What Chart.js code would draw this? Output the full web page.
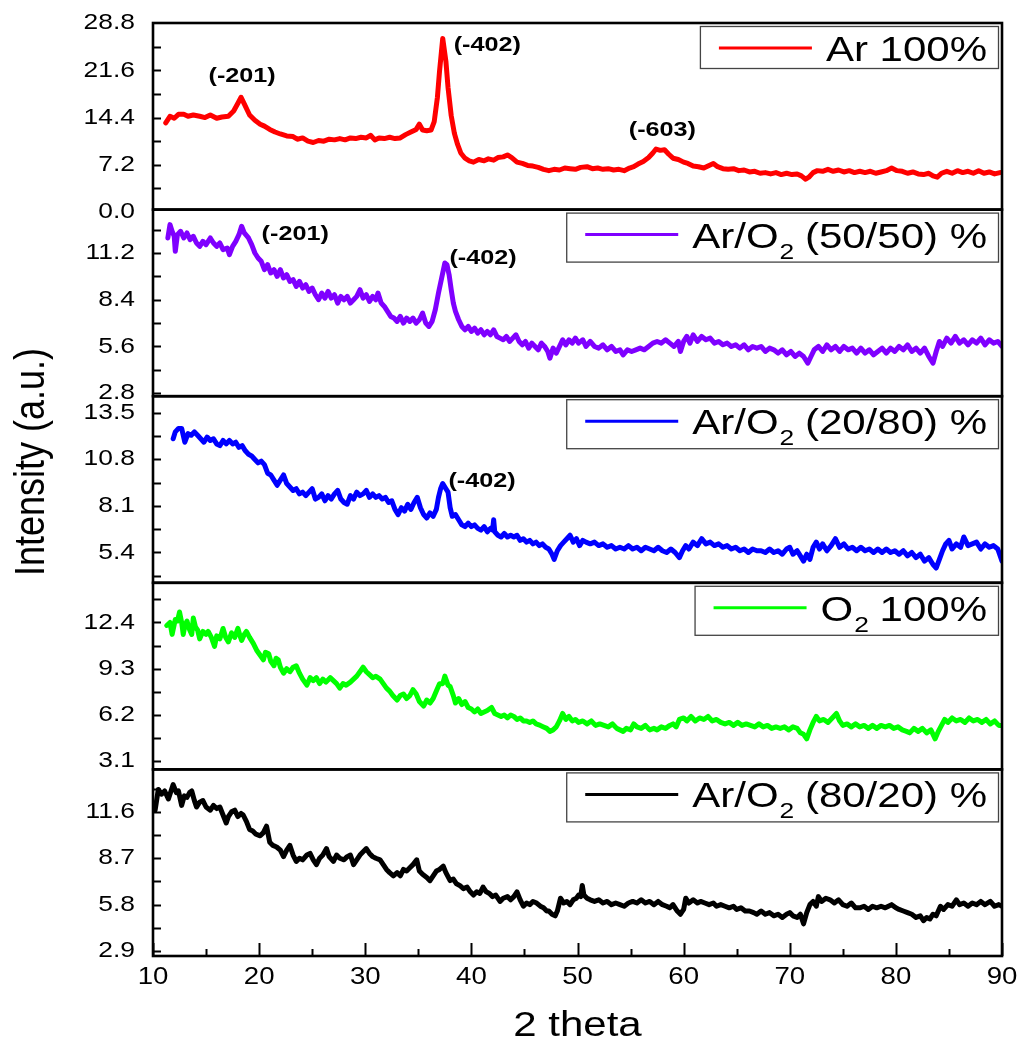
<!DOCTYPE html>
<html>
<head>
<meta charset="utf-8">
<script src="https://cdn.jsdelivr.net/npm/chart.js@4.4.0/dist/chart.umd.min.js"></script>
<style>
html,body{margin:0;padding:0;background:#ffffff;}
#wrap{width:1024px;height:1048px;position:relative;}
</style>
</head>
<body>
<div id="wrap"><canvas id="c" width="1024" height="1048"></canvas></div>
<script>
// ---------- DATA (2 theta, intensity) ----------
const seriesLabels = ['Ar 100%', 'Ar/O₂ (50/50) %', 'Ar/O₂ (20/80) %', 'O₂ 100%', 'Ar/O₂ (80/20) %'];

const ar100 = [[11.2,13.6],[11.6,14.6],[12.0,14.3],[12.4,14.9],[12.9,14.9],[13.3,14.6],[13.8,14.8],[14.4,14.6],[14.9,14.4],[15.4,14.8],[16.0,14.3],[16.5,14.5],[17.1,14.6],[17.6,15.4],[18.0,16.6],[18.3,17.5],[18.6,16.5],[19.1,14.8],[19.6,14.0],[20.1,13.4],[20.5,13.1],[21.0,12.6],[21.5,12.2],[22.0,11.9],[22.6,11.6],[23.2,11.5],[23.6,11.1],[24.1,11.3],[24.6,10.8],[25.1,10.6],[25.6,10.9],[26.1,10.8],[26.6,11.1],[27.1,11.0],[27.6,11.2],[28.1,11.0],[28.6,11.3],[29.1,11.2],[29.6,11.4],[30.1,11.3],[30.5,11.7],[30.9,11.0],[31.3,11.3],[31.8,11.2],[32.3,11.4],[32.8,11.2],[33.3,11.3],[33.8,11.8],[34.3,12.2],[34.8,12.6],[35.1,13.4],[35.4,12.5],[35.8,12.4],[36.2,12.5],[36.5,13.8],[36.8,17.5],[37.0,21.5],[37.3,26.5],[37.6,23.0],[37.8,19.0],[38.1,14.7],[38.4,12.0],[38.7,10.3],[39.0,9.0],[39.4,8.2],[39.8,7.8],[40.2,7.6],[40.7,8.0],[41.2,7.8],[41.6,8.1],[42.1,7.9],[42.5,8.3],[43.0,8.4],[43.4,8.7],[43.8,8.3],[44.3,7.6],[44.8,7.4],[45.3,7.1],[45.8,7.0],[46.3,6.8],[46.8,6.5],[47.3,6.3],[47.8,6.5],[48.3,6.4],[48.8,6.7],[49.3,6.6],[49.8,6.5],[50.3,6.8],[50.9,6.9],[51.4,6.6],[51.9,6.7],[52.4,6.5],[52.9,6.6],[53.4,6.4],[53.9,6.5],[54.4,6.3],[54.9,6.7],[55.3,6.9],[55.7,7.3],[56.2,7.7],[56.7,8.3],[57.1,9.0],[57.4,9.6],[57.8,9.4],[58.2,9.5],[58.6,8.8],[59.0,8.2],[59.5,8.0],[60.0,7.6],[60.4,7.4],[60.9,7.0],[61.4,6.9],[61.9,6.7],[62.4,7.1],[62.8,7.4],[63.2,6.9],[63.7,6.6],[64.2,6.5],[64.7,6.6],[65.2,6.3],[65.7,6.4],[66.2,6.1],[66.7,6.2],[67.2,5.9],[67.7,6.0],[68.2,5.8],[68.7,6.0],[69.2,5.7],[69.7,5.9],[70.2,5.7],[70.7,5.8],[71.1,5.5],[71.5,5.0],[71.8,5.3],[72.2,6.0],[72.6,6.3],[73.1,6.2],[73.6,6.5],[74.1,6.2],[74.6,6.4],[75.1,6.1],[75.6,6.3],[76.1,6.0],[76.6,6.2],[77.1,6.0],[77.6,6.2],[78.1,5.9],[78.6,6.1],[79.1,6.3],[79.6,6.7],[80.1,6.3],[80.6,6.2],[81.1,5.9],[81.6,6.1],[82.1,5.8],[82.6,5.7],[83.1,5.9],[83.5,5.5],[83.9,5.3],[84.3,5.9],[84.8,6.2],[85.3,5.9],[85.8,6.3],[86.3,6.0],[86.8,6.2],[87.3,5.9],[87.8,6.3],[88.3,5.9],[88.8,6.1],[89.3,5.8],[89.8,6.0]];

const ar5050 = [[11.4,12.1],[11.6,12.9],[11.8,12.5],[12.0,12.2],[12.1,11.3],[12.3,12.3],[12.6,12.5],[12.9,12.1],[13.2,12.4],[13.5,12.0],[13.8,12.2],[14.1,11.8],[14.4,11.6],[14.7,11.9],[15.0,11.7],[15.4,12.1],[15.7,11.8],[16.0,11.6],[16.3,11.8],[16.6,11.4],[17.0,11.5],[17.2,11.1],[17.5,11.6],[17.8,11.9],[18.1,12.3],[18.35,12.8],[18.6,12.4],[19.0,12.1],[19.3,11.7],[19.6,11.2],[19.9,10.9],[20.2,10.7],[20.5,10.2],[20.8,10.5],[21.1,10.0],[21.4,10.2],[21.7,9.8],[22.0,10.2],[22.3,9.7],[22.6,9.9],[22.9,9.5],[23.2,9.6],[23.5,9.2],[23.8,9.5],[24.1,9.1],[24.4,9.3],[24.7,8.9],[25.0,9.1],[25.3,8.7],[25.6,8.4],[25.9,8.8],[26.2,8.5],[26.5,8.9],[26.8,8.5],[27.1,8.7],[27.4,8.2],[27.7,8.6],[28.0,8.4],[28.3,8.6],[28.6,8.2],[28.9,8.4],[29.2,8.6],[29.5,9.0],[29.8,8.5],[30.1,8.7],[30.4,8.3],[30.7,8.6],[31.0,8.4],[31.2,8.8],[31.5,8.2],[31.8,8.0],[32.1,7.7],[32.4,7.4],[32.7,7.3],[33.0,7.1],[33.3,7.4],[33.6,7.0],[33.9,7.3],[34.2,7.1],[34.5,7.3],[34.8,7.0],[35.1,7.2],[35.4,7.6],[35.7,7.0],[36.0,6.8],[36.3,7.1],[36.6,7.8],[36.9,8.8],[37.2,9.7],[37.5,10.6],[37.7,10.5],[37.9,9.9],[38.1,9.0],[38.3,8.2],[38.5,7.7],[38.8,7.2],[39.1,6.8],[39.4,6.6],[39.7,6.8],[40.0,6.5],[40.3,6.7],[40.6,6.4],[40.9,6.6],[41.2,6.3],[41.5,6.5],[41.8,6.3],[42.1,6.6],[42.4,6.2],[42.7,6.1],[43.0,6.0],[43.3,6.2],[43.6,5.9],[43.9,6.1],[44.2,6.3],[44.5,5.9],[44.8,5.7],[45.1,5.9],[45.4,5.5],[45.7,5.8],[46.0,5.6],[46.3,5.4],[46.6,5.8],[46.9,5.6],[47.2,5.3],[47.4,4.9],[47.7,5.5],[48.0,5.2],[48.3,5.6],[48.6,6.0],[48.9,5.7],[49.2,6.0],[49.5,5.8],[49.8,6.1],[50.1,5.8],[50.5,6.0],[50.8,5.6],[51.2,5.9],[51.6,5.6],[52.0,5.5],[52.4,5.7],[52.8,5.4],[53.2,5.6],[53.6,5.3],[54.0,5.4],[54.3,5.1],[54.7,5.4],[55.1,5.3],[55.5,5.4],[55.9,5.5],[56.3,5.4],[56.7,5.6],[57.1,5.8],[57.5,5.9],[57.9,5.8],[58.3,6.0],[58.7,5.8],[59.1,5.6],[59.5,5.9],[59.7,5.3],[60.0,5.9],[60.3,6.2],[60.6,5.8],[60.9,6.3],[61.3,5.9],[61.7,6.2],[62.1,6.0],[62.5,6.1],[62.9,5.8],[63.3,5.9],[63.7,5.7],[64.1,5.8],[64.5,5.6],[64.9,5.7],[65.3,5.5],[65.7,5.7],[66.1,5.4],[66.5,5.6],[66.9,5.5],[67.3,5.6],[67.7,5.3],[68.1,5.5],[68.5,5.4],[68.9,5.2],[69.3,5.4],[69.7,5.1],[70.1,5.3],[70.5,5.0],[70.9,5.2],[71.3,5.0],[71.7,4.6],[72.0,5.0],[72.3,5.4],[72.7,5.6],[73.1,5.3],[73.5,5.7],[73.9,5.4],[74.3,5.6],[74.7,5.3],[75.1,5.6],[75.5,5.4],[75.9,5.5],[76.3,5.2],[76.7,5.5],[77.1,5.2],[77.5,5.4],[77.9,5.1],[78.3,5.3],[78.7,5.5],[79.1,5.2],[79.5,5.5],[79.9,5.3],[80.3,5.6],[80.7,5.4],[81.1,5.7],[81.5,5.3],[81.9,5.5],[82.3,5.2],[82.7,5.5],[83.1,5.0],[83.5,4.6],[83.8,5.3],[84.1,5.9],[84.4,5.6],[84.8,6.1],[85.2,5.8],[85.6,6.2],[86.0,5.8],[86.4,6.0],[86.8,5.7],[87.2,6.0],[87.6,5.8],[88.0,6.1],[88.4,5.7],[88.8,6.0],[89.2,5.8],[89.6,5.9],[90.0,5.6]];

const ar2080 = [[11.9,12.0],[12.1,12.4],[12.4,12.6],[12.7,12.6],[13.0,11.8],[13.3,12.3],[13.6,12.2],[13.9,12.4],[14.2,12.2],[14.5,12.0],[14.8,11.8],[15.1,12.1],[15.4,11.9],[15.7,12.0],[16.0,11.7],[16.3,11.6],[16.6,11.9],[16.9,11.7],[17.2,11.9],[17.5,11.7],[17.8,11.8],[18.1,11.5],[18.4,11.6],[18.7,11.3],[19.0,11.1],[19.3,11.0],[19.6,10.8],[19.9,10.6],[20.2,10.7],[20.5,10.5],[20.8,10.0],[21.1,9.9],[21.4,9.6],[21.7,9.3],[22.0,9.6],[22.3,9.9],[22.6,9.4],[22.9,9.2],[23.2,9.0],[23.5,9.1],[23.8,8.8],[24.1,8.9],[24.4,8.7],[24.7,8.9],[25.0,9.1],[25.3,8.5],[25.6,8.6],[25.9,8.8],[26.2,8.4],[26.5,8.7],[26.8,8.5],[27.1,8.8],[27.4,9.0],[27.7,8.5],[28.0,8.3],[28.3,8.2],[28.6,8.7],[28.9,8.5],[29.2,8.9],[29.5,8.7],[29.8,8.8],[30.1,9.0],[30.4,8.6],[30.7,8.8],[31.0,8.6],[31.3,8.7],[31.6,8.5],[31.9,8.6],[32.2,8.3],[32.5,8.4],[32.8,7.9],[33.1,7.6],[33.4,8.0],[33.7,7.8],[34.0,8.2],[34.3,7.9],[34.6,8.3],[34.9,8.6],[35.2,8.0],[35.5,7.6],[35.8,7.4],[36.1,7.7],[36.4,7.5],[36.7,7.9],[36.9,8.6],[37.1,9.1],[37.3,9.4],[37.6,9.1],[37.8,8.9],[38.0,8.0],[38.2,7.5],[38.5,7.6],[38.8,7.3],[39.1,7.0],[39.4,6.9],[39.7,7.1],[40.0,6.9],[40.3,7.0],[40.6,6.8],[40.9,6.7],[41.2,6.9],[41.5,6.6],[41.8,6.8],[42.0,6.7],[42.1,7.3],[42.2,6.6],[42.5,6.4],[42.8,6.3],[43.1,6.5],[43.4,6.3],[43.7,6.4],[44.0,6.3],[44.3,6.4],[44.6,6.1],[44.9,6.2],[45.2,6.0],[45.5,6.1],[45.8,5.9],[46.1,6.0],[46.4,5.8],[46.7,5.9],[47.0,5.7],[47.3,5.6],[47.6,5.3],[47.8,5.0],[48.1,5.5],[48.4,5.8],[48.7,6.0],[49.0,6.2],[49.3,6.4],[49.6,6.0],[49.9,6.2],[50.2,5.8],[50.5,6.1],[50.8,6.0],[51.2,5.9],[51.6,6.0],[52.0,5.8],[52.4,5.9],[52.8,5.7],[53.2,5.8],[53.6,5.6],[54.0,5.7],[54.4,5.6],[54.8,5.8],[55.2,5.6],[55.6,5.7],[56.0,5.5],[56.4,5.7],[56.8,5.6],[57.2,5.5],[57.6,5.7],[58.0,5.5],[58.4,5.4],[58.8,5.6],[59.2,5.4],[59.6,5.1],[59.9,5.5],[60.2,5.8],[60.5,5.6],[60.9,6.0],[61.3,5.8],[61.7,6.2],[62.1,5.9],[62.5,6.0],[62.9,5.8],[63.3,5.9],[63.7,5.7],[64.1,5.8],[64.5,5.6],[64.9,5.7],[65.3,5.5],[65.7,5.6],[66.1,5.4],[66.5,5.6],[66.9,5.5],[67.3,5.5],[67.7,5.4],[68.1,5.6],[68.5,5.4],[68.9,5.5],[69.3,5.3],[69.7,5.6],[70.0,5.7],[70.3,5.3],[70.7,5.5],[71.0,5.2],[71.3,4.9],[71.6,5.3],[71.9,5.0],[72.2,5.7],[72.5,6.0],[72.8,5.6],[73.1,5.9],[73.5,5.5],[73.9,5.8],[74.3,6.2],[74.7,5.7],[75.1,5.9],[75.5,5.6],[75.9,5.7],[76.3,5.5],[76.7,5.7],[77.1,5.5],[77.5,5.6],[77.9,5.4],[78.3,5.6],[78.7,5.4],[79.1,5.6],[79.5,5.4],[79.9,5.5],[80.3,5.3],[80.7,5.5],[81.1,5.2],[81.5,5.4],[81.9,5.1],[82.3,5.3],[82.7,4.9],[83.1,5.1],[83.5,4.7],[83.8,4.5],[84.1,5.0],[84.4,5.5],[84.7,5.9],[85.0,6.1],[85.3,5.6],[85.7,5.9],[86.1,5.7],[86.4,6.3],[86.8,5.8],[87.2,5.9],[87.6,6.0],[88.0,5.6],[88.4,5.9],[88.8,5.7],[89.2,5.8],[89.6,5.6],[90.0,4.9]];

const o2100 = [[11.3,12.2],[11.6,12.4],[11.8,11.6],[12.1,12.6],[12.3,12.5],[12.5,13.1],[12.7,12.4],[12.85,11.6],[13.0,12.2],[13.2,12.5],[13.4,12.0],[13.65,11.6],[13.8,12.7],[14.0,12.1],[14.2,11.9],[14.4,11.3],[14.7,11.8],[15.0,11.6],[15.2,11.8],[15.5,11.4],[15.8,10.8],[16.0,11.5],[16.3,11.3],[16.6,12.0],[16.85,11.4],[17.1,11.1],[17.4,11.7],[17.7,11.4],[18.0,12.0],[18.2,11.5],[18.35,11.2],[18.6,11.6],[18.8,11.8],[19.1,11.4],[19.45,11.0],[19.8,10.5],[20.1,10.2],[20.4,9.9],[20.6,10.4],[20.9,10.3],[21.1,9.8],[21.4,9.5],[21.6,10.0],[21.8,9.9],[22.0,9.4],[22.3,9.0],[22.6,9.3],[22.9,9.1],[23.2,9.4],[23.5,9.5],[23.8,9.0],[24.1,8.6],[24.5,8.2],[24.8,8.7],[25.1,8.5],[25.4,8.7],[25.7,8.3],[26.0,8.6],[26.3,8.4],[26.7,8.7],[27.0,8.5],[27.3,8.3],[27.6,8.0],[27.9,8.3],[28.2,8.2],[28.6,8.4],[28.9,8.6],[29.2,8.8],[29.5,9.1],[29.8,9.4],[30.1,9.1],[30.4,8.9],[30.7,8.7],[31.0,8.8],[31.4,8.6],[31.7,8.3],[32.0,8.0],[32.3,7.8],[32.6,7.5],[33.0,7.2],[33.3,7.5],[33.6,7.6],[33.9,7.3],[34.2,7.5],[34.5,7.9],[34.8,7.6],[35.1,7.1],[35.5,6.8],[35.8,7.2],[36.1,7.0],[36.4,7.3],[36.7,7.8],[37.0,8.3],[37.3,8.3],[37.5,8.8],[37.8,8.2],[38.0,8.1],[38.3,7.5],[38.5,7.0],[38.8,7.3],[39.1,6.9],[39.4,7.1],[39.7,6.7],[40.0,6.6],[40.3,6.4],[40.6,6.6],[40.9,6.3],[41.2,6.4],[41.5,6.5],[41.9,6.7],[42.2,6.3],[42.5,6.2],[42.8,6.1],[43.1,6.2],[43.4,6.0],[43.7,6.2],[44.0,6.1],[44.3,5.9],[44.6,6.0],[44.9,5.8],[45.2,5.8],[45.5,5.7],[45.8,5.8],[46.1,5.6],[46.5,5.5],[46.8,5.4],[47.1,5.3],[47.4,5.1],[47.7,5.2],[48.0,5.4],[48.3,5.8],[48.6,6.3],[48.9,5.9],[49.2,6.1],[49.5,5.8],[49.8,5.9],[50.1,5.7],[50.5,5.8],[50.9,5.6],[51.3,5.8],[51.7,5.5],[52.1,5.6],[52.5,5.5],[52.9,5.4],[53.3,5.6],[53.7,5.3],[54.0,5.2],[54.3,5.1],[54.6,5.3],[55.0,5.2],[55.3,5.6],[55.6,5.4],[56.0,5.3],[56.4,5.5],[56.8,5.2],[57.2,5.3],[57.5,5.2],[57.9,5.4],[58.3,5.3],[58.7,5.5],[59.0,5.6],[59.3,5.4],[59.6,5.9],[60.0,6.0],[60.3,5.8],[60.7,6.1],[61.1,5.8],[61.5,6.0],[61.9,5.9],[62.3,6.1],[62.7,5.8],[63.1,5.9],[63.5,5.7],[63.9,5.6],[64.3,5.7],[64.7,5.5],[65.1,5.7],[65.5,5.5],[65.9,5.6],[66.3,5.5],[66.7,5.4],[67.1,5.6],[67.5,5.4],[67.9,5.5],[68.3,5.3],[68.7,5.4],[69.1,5.3],[69.5,5.4],[69.9,5.2],[70.3,5.4],[70.7,5.3],[71.0,5.0],[71.3,4.9],[71.6,4.6],[71.9,5.2],[72.2,5.7],[72.5,6.1],[72.8,5.8],[73.2,5.9],[73.6,5.7],[74.0,6.0],[74.4,6.3],[74.7,5.8],[75.0,5.5],[75.4,5.6],[75.8,5.4],[76.2,5.6],[76.6,5.4],[77.0,5.5],[77.4,5.3],[77.8,5.5],[78.2,5.3],[78.6,5.5],[79.0,5.4],[79.4,5.5],[79.8,5.3],[80.2,5.4],[80.6,5.2],[81.0,5.1],[81.3,5.0],[81.7,5.3],[82.1,5.1],[82.5,5.3],[82.9,5.0],[83.3,5.2],[83.7,4.6],[84.0,5.1],[84.3,5.5],[84.6,5.9],[84.9,5.7],[85.3,6.0],[85.7,5.8],[86.1,5.9],[86.5,5.7],[86.9,6.0],[87.3,5.8],[87.7,5.9],[88.1,5.7],[88.5,5.9],[88.9,5.6],[89.3,5.8],[89.7,5.5],[90.0,5.5]];

const ar8020 = [[10.2,11.7],[10.5,13.0],[10.8,12.7],[11.1,12.9],[11.45,12.4],[11.7,12.9],[11.9,13.3],[12.2,12.8],[12.4,12.9],[12.7,12.0],[12.95,12.6],[13.2,12.5],[13.45,12.8],[13.65,12.9],[13.9,12.3],[14.1,11.9],[14.4,12.2],[14.7,12.3],[15.0,11.9],[15.4,11.7],[15.7,12.0],[16.0,11.8],[16.3,11.9],[16.6,11.4],[16.9,10.9],[17.1,11.3],[17.4,11.6],[17.7,11.7],[18.0,11.3],[18.3,11.5],[18.5,11.4],[18.8,11.0],[19.1,10.5],[19.4,10.4],[19.7,10.2],[20.1,10.1],[20.4,10.3],[20.7,10.7],[21.0,9.7],[21.3,9.5],[21.65,9.4],[22.0,9.2],[22.3,8.8],[22.6,9.2],[22.9,9.5],[23.2,8.9],[23.5,8.5],[23.8,8.7],[24.1,8.6],[24.5,8.9],[24.8,9.0],[25.1,8.6],[25.4,8.3],[25.7,8.7],[26.0,8.9],[26.35,9.3],[26.6,8.8],[27.0,8.5],[27.3,8.9],[27.6,8.7],[28.0,8.6],[28.3,8.8],[28.6,8.9],[28.9,8.3],[29.2,8.6],[29.5,8.9],[29.8,9.1],[30.1,9.3],[30.4,9.0],[30.7,8.8],[31.0,8.7],[31.4,8.6],[31.7,8.3],[32.0,8.0],[32.3,7.8],[32.65,7.6],[33.0,7.8],[33.3,7.6],[33.6,8.0],[33.9,7.9],[34.2,8.1],[34.5,8.3],[34.85,8.6],[35.1,7.9],[35.4,7.7],[35.8,7.5],[36.1,7.3],[36.4,7.6],[36.7,7.9],[37.0,8.0],[37.35,8.2],[37.6,7.8],[38.0,7.3],[38.3,7.4],[38.6,7.1],[38.9,7.0],[39.25,6.8],[39.6,6.9],[39.9,6.6],[40.2,6.4],[40.5,6.6],[40.8,6.5],[41.1,6.9],[41.4,6.6],[41.7,6.5],[42.0,6.3],[42.3,6.4],[42.7,6.0],[43.0,6.2],[43.4,6.3],[43.7,6.1],[44.0,6.3],[44.3,6.6],[44.6,6.1],[44.9,5.7],[45.2,5.9],[45.5,5.8],[45.8,6.0],[46.15,5.9],[46.5,5.7],[46.8,5.6],[47.1,5.4],[47.3,5.4],[47.6,5.2],[47.9,5.1],[48.1,5.4],[48.4,6.2],[48.7,5.9],[49.0,6.0],[49.3,5.8],[49.6,6.1],[49.9,6.2],[50.1,6.4],[50.3,6.3],[50.45,7.0],[50.6,6.4],[50.9,6.2],[51.2,6.1],[51.6,6.0],[52.0,6.1],[52.4,5.9],[52.8,6.0],[53.2,5.8],[53.6,5.9],[54.0,5.8],[54.4,5.7],[54.8,5.9],[55.2,6.0],[55.6,5.9],[56.0,6.1],[56.4,5.9],[56.8,6.0],[57.2,5.8],[57.6,6.0],[58.0,5.8],[58.4,5.7],[58.7,5.6],[59.0,5.8],[59.4,5.4],[59.7,5.2],[60.0,5.5],[60.2,6.2],[60.5,5.9],[60.9,6.1],[61.3,5.9],[61.6,6.0],[62.0,5.9],[62.4,5.8],[62.8,5.9],[63.1,5.7],[63.5,5.8],[63.9,5.7],[64.3,5.6],[64.7,5.7],[65.0,5.5],[65.4,5.6],[65.8,5.4],[66.2,5.4],[66.6,5.3],[66.9,5.2],[67.3,5.4],[67.7,5.2],[68.1,5.3],[68.5,5.1],[68.9,5.2],[69.3,5.0],[69.7,5.2],[70.0,5.3],[70.3,5.1],[70.7,5.0],[71.0,5.2],[71.3,4.6],[71.6,5.3],[71.9,5.8],[72.2,6.0],[72.5,5.7],[72.7,6.3],[73.0,6.0],[73.4,6.2],[73.8,6.1],[74.2,5.9],[74.6,6.1],[75.0,5.8],[75.4,5.7],[75.8,5.9],[76.2,5.6],[76.6,5.6],[77.0,5.7],[77.4,5.5],[77.8,5.7],[78.2,5.6],[78.6,5.7],[79.0,5.6],[79.3,5.7],[79.6,5.8],[80.0,5.6],[80.3,5.5],[80.7,5.4],[81.1,5.3],[81.5,5.2],[81.9,5.0],[82.3,5.1],[82.6,4.8],[82.9,5.0],[83.2,4.9],[83.5,5.2],[83.8,5.1],[84.2,5.7],[84.5,5.5],[84.9,5.8],[85.3,5.7],[85.7,6.1],[86.0,5.8],[86.4,5.9],[86.8,5.7],[87.2,5.9],[87.6,5.8],[88.0,6.0],[88.4,5.8],[88.9,6.0],[89.3,5.7],[89.7,5.8],[90.0,5.7]];

// tick labels
const xTickValues = [10, 20, 30, 40, 50, 60, 70, 80, 90];
const yTicksAr100 = [0.0, 7.2, 14.4, 21.6, 28.8];
const yTicks5050 = [2.8, 5.6, 8.4, 11.2];
const yTicks2080 = [5.4, 8.1, 10.8, 13.5];
const yTicksO2 = [3.1, 6.2, 9.3, 12.4];
const yTicks8020 = [2.9, 5.8, 8.7, 11.6];

// axis ranges per panel
const yMin = [0.35, 2.62, 3.64, 2.55, 2.59];
const yMax = [28.85, 13.8, 14.47, 15.06, 14.25];

// peak annotations (panel index, 2theta, intensity, text)
const peakPanel = [0, 0, 0, 1, 1, 2];
const peakX = [18.4, 41.5, 58.0, 23.4, 41.1, 41.0];
const peakY = [20.7, 25.5, 12.5, 12.3, 10.9, 9.55];
const peakText = ['(-201)', '(-402)', '(-603)', '(-201)', '(-402)', '(-402)'];

const colors = ['#ff0000', '#7f00ff', '#0000ff', '#00ff00', '#000000'];
const allSeries = [ar100, ar5050, ar2080, o2100, ar8020];
const allYTicks = [yTicksAr100, yTicks5050, yTicks2080, yTicksO2, yTicks8020];
const axisIds = ['y1', 'y2', 'y3', 'y4', 'y5'];

// ---------- rendering ----------
const FONT = '"Liberation Sans", Arial, Helvetica, sans-serif';
const SX = 1.2; // horizontal text stretch of the original figure

function sText(ctx, text, x, y, font, align, baseline) {
  ctx.save();
  ctx.font = font;
  ctx.textAlign = align || 'left';
  ctx.textBaseline = baseline || 'alphabetic';
  ctx.translate(x, y);
  ctx.scale(SX, 1);
  ctx.fillText(text, 0, 0);
  ctx.restore();
}
function sWidth(ctx, text, font) {
  ctx.save(); ctx.font = font; const w = ctx.measureText(text).width * SX; ctx.restore(); return w;
}

const decor = {
  id: 'decor',
  afterDatasetsDraw(chart) {
    const ctx = chart.ctx, ca = chart.chartArea, xs = chart.scales.x;
    ctx.save();
    ctx.fillStyle = '#000'; ctx.strokeStyle = '#000';
    axisIds.forEach((id, i) => {
      const sc = chart.scales[id];
      const top = sc.top, bottom = sc.bottom;
      // frame
      ctx.lineWidth = 2.6;
      ctx.strokeRect(ca.left, top, ca.right - ca.left, bottom - top);
      // y ticks: majors + half-step minors, drawn inward
      const majors = allYTicks[i];
      const half = (majors[1] - majors[0]) / 2;
      let v = majors[0];
      while (v - half >= sc.min) v -= half;
      ctx.lineWidth = 2;
      for (; v <= sc.max + 1e-9; v += half) {
        const py = Math.round(sc.getPixelForValue(v)) + 0.5;
        if (py < top + 2 || py > bottom - 2) continue;
        ctx.beginPath(); ctx.moveTo(ca.left, py); ctx.lineTo(ca.left + 8, py); ctx.stroke();
      }
      // y labels
      majors.forEach(m => {
        const py = sc.getPixelForValue(m);
        sText(ctx, m.toFixed(1), ca.left - 18, py, '22px ' + FONT, 'right', 'middle');
      });
      // legend box
      const label = seriesLabels[i];
      const parts = label.split('₂');
      const mainFont = '35px ' + FONT, subFont = '22px ' + FONT;
      let tw = 0;
      parts.forEach((p, k) => { tw += sWidth(ctx, p, mainFont); if (k < parts.length - 1) tw += sWidth(ctx, '2', subFont); });
      const hasSub = parts.length > 1;
      const bTop = top + 3, bH = hasSub ? 49 : 42, bRight = ca.right - 4;
      const textRight = bRight - 11, textLeft = textRight - tw;
      const lineR = textLeft - 14, lineL = lineR - 93;
      const bLeft = lineL - 19;
      ctx.fillStyle = '#fff';
      ctx.fillRect(bLeft, bTop, bRight - bLeft, bH);
      ctx.lineWidth = 1.3; ctx.strokeStyle = '#444';
      ctx.strokeRect(bLeft + 0.5, bTop + 0.5, bRight - bLeft, bH);
      ctx.strokeStyle = colors[i]; ctx.lineWidth = 3;
      ctx.beginPath(); ctx.moveTo(lineL, bTop + 22); ctx.lineTo(lineR, bTop + 22); ctx.stroke();
      ctx.fillStyle = '#000'; ctx.strokeStyle = '#000';
      let cx = textLeft;
      parts.forEach((p, k) => {
        sText(ctx, p, cx, bTop + 35, mainFont, 'left', 'alphabetic');
        cx += sWidth(ctx, p, mainFont);
        if (k < parts.length - 1) {
          sText(ctx, '2', cx + 1, bTop + 46, subFont, 'left', 'alphabetic');
          cx += sWidth(ctx, '2', subFont);
        }
      });
    });
    // x ticks at bottom (inward)
    const bottom = ca.bottom;
    ctx.lineWidth = 2; ctx.strokeStyle = '#000';
    for (let k = 0; k < xTickValues.length; k++) {
      const px = Math.round(xs.getPixelForValue(xTickValues[k])) + 0.5;
      ctx.beginPath(); ctx.moveTo(px, bottom); ctx.lineTo(px, bottom - 13); ctx.stroke();
      if (k < xTickValues.length - 1) {
        const pm = Math.round(xs.getPixelForValue((xTickValues[k] + xTickValues[k + 1]) / 2)) + 0.5;
        ctx.beginPath(); ctx.moveTo(pm, bottom); ctx.lineTo(pm, bottom - 7); ctx.stroke();
      }
      sText(ctx, String(xTickValues[k]), xs.getPixelForValue(xTickValues[k]), bottom + 22, '23px ' + FONT, 'center', 'middle');
    }
    // axis titles
    sText(ctx, '2 theta', (ca.left + ca.right) / 2, bottom + 70, '35px ' + FONT, 'center', 'middle');
    ctx.save();
    ctx.translate(32, 462);
    ctx.scale(SX, 1);
    ctx.rotate(-Math.PI / 2);
    ctx.font = '36px ' + FONT; ctx.textAlign = 'center'; ctx.textBaseline = 'middle';
    ctx.fillText('Intensity (a.u.)', 0, 0);
    ctx.restore();
    // peak annotations
    for (let k = 0; k < peakText.length; k++) {
      const sc = chart.scales[axisIds[peakPanel[k]]];
      sText(ctx, peakText[k], xs.getPixelForValue(peakX[k]), sc.getPixelForValue(peakY[k]), 'bold 21px ' + FONT, 'center', 'middle');
    }
    ctx.restore();
  }
};

const scales = {
  x: {
    type: 'linear', position: 'bottom', min: 10, max: 90,
    ticks: { display: false, stepSize: 10 }, grid: { display: false }, border: { display: false },
    afterFit: s => { s.height = 92; }
  }
};
axisIds.forEach((id, i) => {
  scales[id] = {
    type: 'linear', position: 'left', stack: 'panels', stackWeight: 1, weight: 5 - i,
    min: yMin[i], max: yMax[i],
    ticks: { display: false }, grid: { display: false }, border: { display: false },
    afterFit: s => { s.width = 153; }
  };
});

new Chart(document.getElementById('c'), {
  type: 'scatter',
  data: {
    datasets: allSeries.map((s, i) => ({
      label: seriesLabels[i],
      data: s.map(p => ({ x: p[0], y: p[1] })),
      yAxisID: axisIds[i],
      showLine: true,
      borderColor: colors[i],
      backgroundColor: colors[i],
      borderWidth: 5,
      pointRadius: 0,
      tension: 0,
      borderJoinStyle: 'round',
      borderCapStyle: 'round'
    }))
  },
  options: {
    responsive: false,
    animation: false,
    devicePixelRatio: 1,
    layout: { padding: { top: 23, right: 22, left: 0, bottom: 0 } },
    plugins: { legend: { display: false }, tooltip: { enabled: false } },
    scales: scales
  },
  plugins: [decor]
});
</script>
</body>
</html>
